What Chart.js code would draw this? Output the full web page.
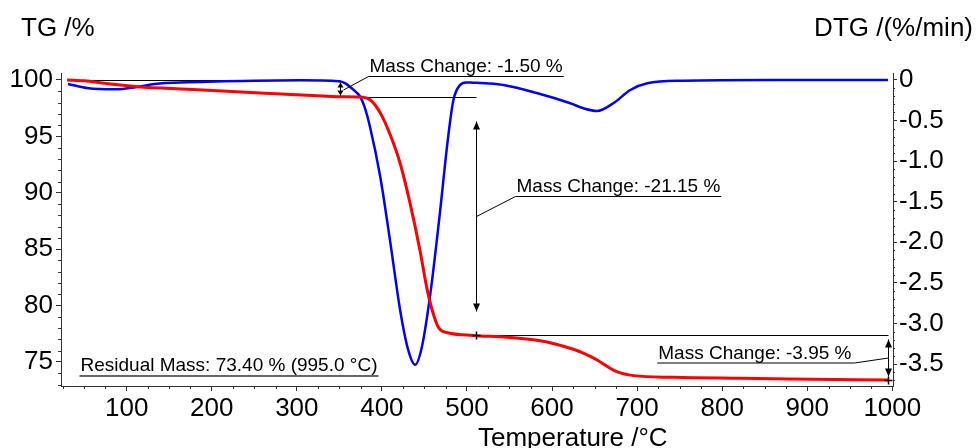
<!DOCTYPE html>
<html><head><meta charset="utf-8">
<script src="https://cdn.jsdelivr.net/npm/chart.js@4.4.0/dist/chart.umd.min.js"></script>
<style>html,body{margin:0;padding:0;background:#fff;overflow:hidden}#wrap{width:977px;height:448px}</style>
</head><body><div id="wrap"><canvas id="c" width="977" height="448"></canvas></div>
<script>
// ---- data ----
const tgTemp   = [30, 50, 75, 113, 172, 251, 330, 353, 374, 386, 398, 410, 421.5, 433, 445, 453, 459.5, 467, 480, 507, 547, 586, 625, 640, 653, 665, 676, 696, 743, 821, 880, 995];
const tgValues = [100.0, 99.93, 99.7, 99.41, 99.18, 98.87, 98.58, 98.52, 98.5, 98.25, 97.1, 95.1, 92.6, 89.1, 84.8, 81.5, 79.5, 78.0, 77.55, 77.35, 77.19, 76.89, 76.13, 75.68, 75.18, 74.6, 74.14, 73.79, 73.64, 73.55, 73.49, 73.40];
const dtgTemp   = [31, 55, 86, 114, 133, 172, 251, 304, 349, 357, 369, 374.5, 380, 386, 398, 410, 421.5, 431, 439, 447, 457, 468.6, 477, 484, 492, 499, 507, 525, 543, 583, 621.5, 637, 653, 672, 692, 712, 754, 857, 995];
const dtgValues = [-0.049, -0.102, -0.115, -0.083, -0.049, -0.028, -0.009, -0.004, -0.015, -0.041, -0.144, -0.206, -0.345, -0.576, -1.19, -2.01, -2.84, -3.33, -3.51, -3.29, -2.63, -1.60, -0.78, -0.25, -0.06, -0.03, -0.033, -0.042, -0.062, -0.164, -0.287, -0.349, -0.382, -0.287, -0.123, -0.041, -0.009, 0, 0];
const xTicks   = [100, 200, 300, 400, 500, 600, 700, 800, 900, 1000];
const tgTicks  = [75, 80, 85, 90, 95, 100];
const dtgTicks = [-3.5, -3.0, -2.5, -2.0, -1.5, -1.0, -0.5, 0];
const stepTemps  = [351, 511, 995];
const stepLevels = [100, 98.5, 77.35, 73.40];
const stepLabels = ['Mass Change: -1.50 %', 'Mass Change: -21.15 %', 'Mass Change: -3.95 %'];
const residualLabel = 'Residual Mass: 73.40 % (995.0 °C)';
const refStartTemp = 30;

const FONT = 'Arial, "Liberation Sans", sans-serif';
const AX = '#333';

function toPts(xs, ys){ return xs.map((x,i)=>({x:x, y:ys[i]})); }

const minorTicks = {
  id:'minorTicks',
  afterDraw(chart){
    const ctx = chart.ctx, a = chart.chartArea;
    const sx = chart.scales.x, sy = chart.scales.y, sy1 = chart.scales.y1;
    ctx.save(); ctx.strokeStyle = AX; ctx.lineWidth = 1;
    ctx.beginPath();
    for (let t = 25; t <= 1000; t += 25){
      if (t % 100 === 0) continue;
      const p = Math.round(sx.getPixelForValue(t)) + 0.5;
      ctx.moveTo(p, a.bottom); ctx.lineTo(p, a.bottom + 3);
    }
    for (let v = 73; v <= 100; v += 1){
      if (v % 5 === 0) continue;
      const p = Math.round(sy.getPixelForValue(v)) + 0.5;
      ctx.moveTo(a.left - 3, p); ctx.lineTo(a.left, p);
    }
    for (let k = -37; k <= 0; k++){
      if (k % 5 === 0) continue;
      const p = Math.round(sy1.getPixelForValue(k/10)) + 0.5;
      ctx.moveTo(a.right, p); ctx.lineTo(a.right + 2, p);
    }
    ctx.stroke();
    ctx.fillStyle = '#000';
    ctx.font = '26px ' + FONT;
    ctx.textBaseline = 'alphabetic';
    ctx.textAlign = 'left';
    ctx.fillText('TG /%', 21, 36);
    ctx.textAlign = 'right';
    ctx.fillText('DTG /(%/min)', 973, 36);
    ctx.textAlign = 'left';
    ctx.fillText('Temperature /°C', 478, 446);
    ctx.restore();
  }
};

function arrowHead(ctx, x, y, dir, len, hw){
  ctx.beginPath();
  ctx.moveTo(x, y);
  ctx.lineTo(x - hw, y + dir*len);
  ctx.lineTo(x + hw, y + dir*len);
  ctx.closePath(); ctx.fill();
}

const annotations = {
  id:'annotations',
  beforeDatasetsDraw(chart){
    const ctx = chart.ctx;
    const sx = chart.scales.x, sy = chart.scales.y;
    const X = t => Math.round(sx.getPixelForValue(t)) + 0.5;
    const Y = v => Math.round(sy.getPixelForValue(v)) + 0.5;
    ctx.save();
    ctx.strokeStyle = '#000'; ctx.fillStyle = '#000'; ctx.lineWidth = 1;
    const hline = (t0, t1, v) => { ctx.beginPath(); ctx.moveTo(X(t0), Y(v)); ctx.lineTo(X(t1), Y(v)); ctx.stroke(); };
    hline(refStartTemp, stepTemps[0], stepLevels[0]);
    hline(stepTemps[0], stepTemps[1], stepLevels[1]);
    hline(stepTemps[1], stepTemps[2], stepLevels[2]);
    ctx.restore();
  },
  afterDraw(chart){
    const ctx = chart.ctx;
    const sx = chart.scales.x, sy = chart.scales.y;
    const X = t => Math.round(sx.getPixelForValue(t)) + 0.5;
    const Y = v => Math.round(sy.getPixelForValue(v)) + 0.5;
    ctx.save();
    ctx.strokeStyle = '#000'; ctx.fillStyle = '#000'; ctx.lineWidth = 1;
    ctx.font = '19px ' + FONT;
    ctx.textBaseline = 'alphabetic';
    const insets = [2, 24, 4];
    const heads = [[5,3],[8,3.5],[8,3.5]];
    for (let i = 0; i < 3; i++){
      const x = X(stepTemps[i]);
      const y0 = Y(stepLevels[i]), y1 = Y(stepLevels[i+1]);
      const ta = y0 + insets[i], tb = y1 - insets[i];
      ctx.beginPath(); ctx.moveTo(x, ta); ctx.lineTo(x, tb); ctx.stroke();
      arrowHead(ctx, x, ta, 1, heads[i][0], heads[i][1]);
      arrowHead(ctx, x, tb, -1, heads[i][0], heads[i][1]);
      const mid = (y0 + y1) / 2;
      const w = ctx.measureText(stepLabels[i]).width;
      let ux0, ux1, uy, lx, ly;
      if (i === 0){ lx = x + 3; ly = mid + 1; ux0 = x + 28; uy = mid - 12.5; ux1 = ux0 + w + 2; }
      else if (i === 1){ lx = x; ly = mid; ux0 = x + 39; uy = mid - 20; ux1 = ux0 + w + 2; }
      else { lx = x; ly = mid; ux1 = x - 34; uy = mid + 5; ux0 = ux1 - w - 4; }
      ctx.beginPath();
      ctx.moveTo(lx, ly);
      if (i < 2){ ctx.lineTo(ux0, uy); ctx.lineTo(ux1, uy); }
      else { ctx.lineTo(ux1, uy); ctx.lineTo(ux0, uy); }
      ctx.stroke();
      ctx.textAlign = 'left';
      ctx.fillText(stepLabels[i], ux0 + 1, uy - 4.5);
    }
    ctx.lineWidth = 1.5;
    const plus = (t, v) => { const x = X(t), y = Y(v); ctx.beginPath(); ctx.moveTo(x-4, y); ctx.lineTo(x+4, y); ctx.moveTo(x, y-4); ctx.lineTo(x, y+4); ctx.stroke(); };
    plus(stepTemps[1], stepLevels[2]);
    plus(stepTemps[2], stepLevels[3]);
    const rx = X(43.5), ry = Y(stepLevels[3]) - 4.5;
    const rw = ctx.measureText(residualLabel).width;
    ctx.strokeStyle = '#666'; ctx.lineWidth = 2;
    ctx.beginPath(); ctx.moveTo(rx, ry); ctx.lineTo(rx + rw + 2, ry); ctx.stroke();
    ctx.fillStyle = '#000';
    ctx.fillText(residualLabel, rx + 1, ry - 5);
    ctx.restore();
  }
};

Chart.defaults.font.family = FONT;
new Chart(document.getElementById('c'), {
  type: 'line',
  data: {
    datasets: [
      { label: 'TG', data: toPts(tgTemp, tgValues), yAxisID: 'y', borderColor: '#ff0000', borderWidth: 3, pointRadius: 0, fill: false, cubicInterpolationMode: 'monotone' },
      { label: 'DTG', data: toPts(dtgTemp, dtgValues), yAxisID: 'y1', borderColor: '#0000ff', borderWidth: 2.5, pointRadius: 0, fill: false, cubicInterpolationMode: 'monotone' }
    ]
  },
  options: {
    responsive: false, animation: false, devicePixelRatio: 1,
    layout: { padding: { top: 73, left: 0, right: 0, bottom: 0 } },
    plugins: { legend: { display: false }, tooltip: { enabled: false } },
    scales: {
      x: {
        type: 'linear', position: 'bottom', min: 22.8, max: 1000.8,
        afterBuildTicks: s => { s.ticks = xTicks.map(v => ({ value: v })); },
        afterFit: s => { s.height = 62; },
        grid: { drawOnChartArea: false, drawTicks: true, tickLength: 5, color: AX },
        border: { display: true, color: AX, width: 1 },
        ticks: { font: { size: 26 }, color: '#000', padding: 2, maxRotation: 0, autoSkip: false, callback: v => String(v) }
      },
      y: {
        type: 'linear', position: 'left', min: 72.87, max: 100.62,
        afterBuildTicks: s => { s.ticks = tgTicks.map(v => ({ value: v })); },
        afterFit: s => { s.width = 61; },
        grid: { drawOnChartArea: false, drawTicks: true, tickLength: 5, color: AX },
        border: { display: true, color: AX, width: 1 },
        ticks: { font: { size: 26 }, color: '#000', padding: 3, callback: v => String(v) }
      },
      y1: {
        type: 'linear', position: 'right', min: -3.771, max: 0.086,
        afterBuildTicks: s => { s.ticks = dtgTicks.map(v => ({ value: v })); },
        afterFit: s => { s.width = 84; },
        grid: { drawOnChartArea: false, drawTicks: true, tickLength: 4, color: AX },
        border: { display: true, color: AX, width: 1 },
        ticks: { font: { size: 26 }, color: '#000', padding: 2, callback: v => v === 0 ? '0' : v.toFixed(1) }
      }
    }
  },
  plugins: [minorTicks, annotations]
});
</script></body></html>
